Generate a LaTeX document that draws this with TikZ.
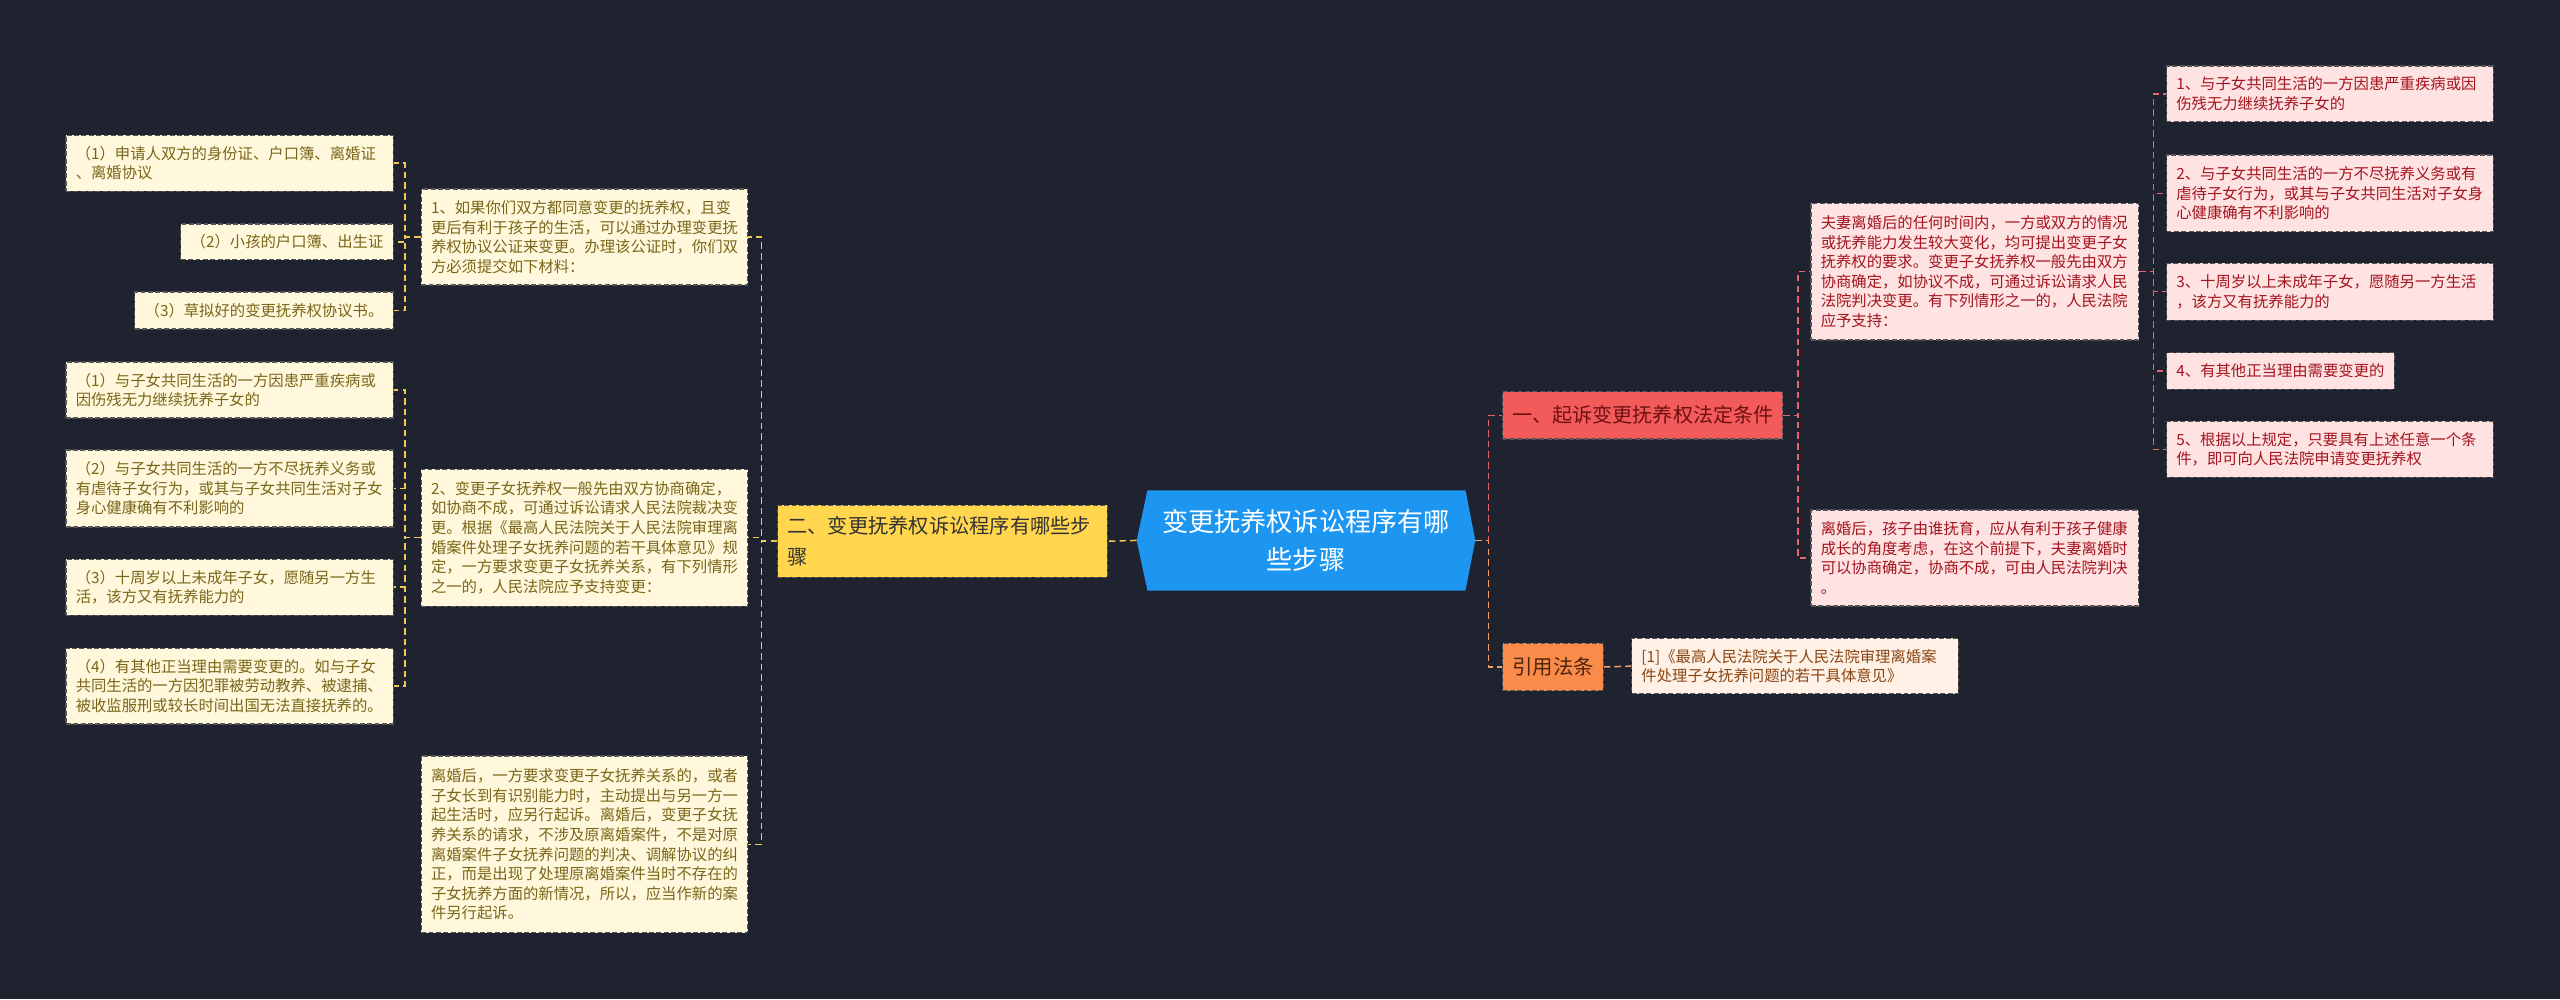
\documentclass[tikz,border=0pt]{standalone}
\usepackage{fontspec}
\setmainfont{Noto Sans CJK SC}
\usetikzlibrary{backgrounds,calc}
\definecolor{bgc}{RGB}{31,35,48}
\definecolor{rootc}{RGB}{28,150,240}
\definecolor{yelc}{RGB}{255,214,77}
\definecolor{yelline}{RGB}{240,200,80}
\definecolor{creamc}{RGB}{255,248,221}
\definecolor{creamtxt}{RGB}{122,102,24}
\definecolor{redc}{RGB}{243,91,91}
\definecolor{redtxt}{RGB}{110,16,16}
\definecolor{redline}{RGB}{232,100,106}
\definecolor{pinkc}{RGB}{255,227,227}
\definecolor{pinktxt}{RGB}{163,20,30}
\definecolor{orac}{RGB}{249,139,75}
\definecolor{oratxt}{RGB}{80,36,10}
\definecolor{oraline}{RGB}{245,160,96}
\definecolor{peachc}{RGB}{255,241,230}
\definecolor{peachtxt}{RGB}{139,69,19}
\definecolor{bordc}{RGB}{85,85,85}
\tikzset{
  box/.style={rectangle, draw=bordc, line width=0.7pt, dash pattern=on 3pt off 1.5pt, inner xsep=6pt, inner ysep=0pt, align=left},
  leafY/.style={box, fill=creamc, text=creamtxt, font=\fontsize{9.4}{12}\selectfont},
  leafR/.style={box, fill=pinkc, text=pinktxt, font=\fontsize{9.4}{12}\selectfont},
  leafO/.style={box, fill=peachc, text=peachtxt, font=\fontsize{9.4}{12}\selectfont},
  mainY/.style={box, fill=yelc, text=black!80, font=\fontsize{12.4}{19}\selectfont},
  mainR/.style={box, fill=redc, text=redtxt, font=\fontsize{12.3}{16}\selectfont},
  mainO/.style={box, fill=orac, text=oratxt, font=\fontsize{12.5}{16}\selectfont},
  rootn/.style={inner sep=0pt, text=white, align=center, font=\fontsize{16}{23}\selectfont},
  conn/.style={line width=0.9pt, dash pattern=on 4pt off 2.5pt},
  connY/.style={conn, draw=yelline},
  connR/.style={conn, draw=redline},
  connO/.style={conn, draw=oraline}
}
\begin{document}
\begin{tikzpicture}[x=1pt,y=-1pt]
\useasboundingbox (0,0) rectangle (1568,611.9);
% root
\node[rootn, minimum width=207pt, minimum height=61pt] (root) at (799.9,331) {变更抚养权诉讼程序有哪\\些步骤};
% left branch
\node[mainY, text width=190pt, minimum height=44pt] (Y) at (577.3,331.5) {二、变更抚养权诉讼程序有哪些步\\骤};
\node[leafY, text width=188pt, minimum height=58.8pt] (M1) at (358,145.2) {1、如果你们双方都同意变更的抚养权，且变\\更后有利于孩子的生活，可以通过办理变更抚\\养权协议公证来变更。办理该公证时，你们双\\方必须提交如下材料：};
\node[leafY, text width=188pt, minimum height=83.9pt] (M2) at (358,329.3) {2、变更子女抚养权一般先由双方协商确定，\\如协商不成，可通过诉讼请求人民法院裁决变\\更。根据《最高人民法院关于人民法院审理离\\婚案件处理子女抚养问题的若干具体意见》规\\定，一方要求变更子女抚养关系，有下列情形\\之一的，人民法院应予支持变更：};
\node[leafY, text width=188pt, minimum height=108.3pt] (M3) at (358,517.2) {离婚后，一方要求变更子女抚养关系的，或者\\子女长到有识别能力时，主动提出与另一方一\\起生活时，应另行起诉。离婚后，变更子女抚\\养关系的请求，不涉及原离婚案件，不是对原\\离婚案件子女抚养问题的判决、调解协议的纠\\正，而是出现了处理原离婚案件当时不存在的\\子女抚养方面的新情况，所以，应当作新的案\\件另行起诉。};
\node[leafY, text width=188.6pt, minimum height=34.3pt] (L1a) at (140.7,99.9) {（1）申请人双方的身份证、户口簿、离婚证\\、离婚协议};
\node[leafY, text width=118.2pt, minimum height=22pt] (L1b) at (175.9,148.2) {（2）小孩的户口簿、出生证};
\node[leafY, text width=146.4pt, minimum height=22.7pt] (L1c) at (161.8,190.2) {（3）草拟好的变更抚养权协议书。};
\node[leafY, text width=188.6pt, minimum height=34.3pt] (L2a) at (140.7,238.9) {（1）与子女共同生活的一方因患严重疾病或\\因伤残无力继续抚养子女的};
\node[leafY, text width=188.6pt, minimum height=47.2pt] (L2b) at (140.7,299.2) {（2）与子女共同生活的一方不尽抚养义务或\\有虐待子女行为，或其与子女共同生活对子女\\身心健康确有不利影响的};
\node[leafY, text width=188.6pt, minimum height=34.3pt] (L2c) at (140.7,359.6) {（3）十周岁以上未成年子女，愿随另一方生\\活，该方又有抚养能力的};
\node[leafY, text width=188.6pt, minimum height=46.5pt] (L2d) at (140.7,420.2) {（4）有其他正当理由需要变更的。如与子女\\共同生活的一方因犯罪被劳动教养、被逮捕、\\被收监服刑或较长时间出国无法直接抚养的。};
% right branch
\node[mainR, text width=159.6pt, minimum height=29pt] (R1) at (1006.1,254.4) {一、起诉变更抚养权法定条件};
\node[mainO, text width=49.6pt, minimum height=29pt] (R2) at (951.2,408.5) {引用法条};
\node[leafR, text width=188.8pt, minimum height=83.7pt] (RA) at (1209.6,166.4) {夫妻离婚后的任何时间内，一方或双方的情况\\或抚养能力发生较大变化，均可提出变更子女\\抚养权的要求。变更子女抚养权一般先由双方\\协商确定，如协议不成，可通过诉讼请求人民\\法院判决变更。有下列情形之一的，人民法院\\应予支持：};
\node[leafR, text width=188.8pt, minimum height=58.8pt] (RB) at (1209.6,341.8) {离婚后，孩子由谁抚育，应从有利于孩子健康\\成长的角度考虑，在这个前提下，夫妻离婚时\\可以协商确定，协商不成，可由人民法院判决\\。};
\node[leafR, text width=188pt, minimum height=34.1pt] (R1a) at (1427,57.5) {1、与子女共同生活的一方因患严重疾病或因\\伤残无力继续抚养子女的};
\node[leafR, text width=188pt, minimum height=47pt] (R1b) at (1427,118.4) {2、与子女共同生活的一方不尽抚养义务或有\\虐待子女行为，或其与子女共同生活对子女身\\心健康确有不利影响的};
\node[leafR, text width=188pt, minimum height=34.7pt] (R1c) at (1427,178.7) {3、十周岁以上未成年子女，愿随另一方生活\\，该方又有抚养能力的};
\node[leafR, text width=127.5pt, minimum height=22.3pt] (R1d) at (1396.8,227.2) {4、有其他正当理由需要变更的};
\node[leafR, text width=188pt, minimum height=34.5pt] (R1e) at (1427,275.2) {5、根据以上规定，只要具有上述任意一个条\\件，即可向人民法院申请变更抚养权};
\node[leafO, text width=188pt, minimum height=34pt] (R2c) at (1099.4,408) {[1]《最高人民法院关于人民法院审理离婚案\\件处理子女抚养问题的若干具体意见》};
% background and root shape
\begin{scope}[on background layer]
\fill[bgc] (0,0) rectangle (1568,611.9);
\fill[rootc] ($(root.north west)+(6.6,0)$) -- ($(root.north east)+(-6,0)$) -- (root.east) -- ($(root.south east)+(-6,0)$) -- ($(root.south west)+(6.6,0)$) -- (root.west) -- cycle;
% connectors
\draw[connY] (root.west) -- (Y.east);
\foreach \m in {M1,M2,M3} \draw[connY] (Y.west) -- ++(-9.5,0) |- (\m.east);
\foreach \l in {L1a,L1b,L1c} \draw[connY] (M1.west) -- ++(-9.5,0) |- (\l.east);
\foreach \l in {L2a,L2b,L2c,L2d} \draw[connY] (M2.west) -- ++(-9.5,0) |- (\l.east);
\draw[connR] (root.east) -- ++(8,0) |- (R1.west);
\draw[connO] (root.east) -- ++(8,0) |- (R2.west);
\foreach \r in {RA,RB} \draw[connR] (R1.east) -- ++(9,0) |- (\r.west);
\foreach \r in {R1a,R1b,R1c,R1d,R1e} \draw[connR] (RA.east) -- ++(8.5,0) |- (\r.west);
\draw[connO] (R2.east) -- (R2c.west);
\end{scope}
\end{tikzpicture}
\end{document}
